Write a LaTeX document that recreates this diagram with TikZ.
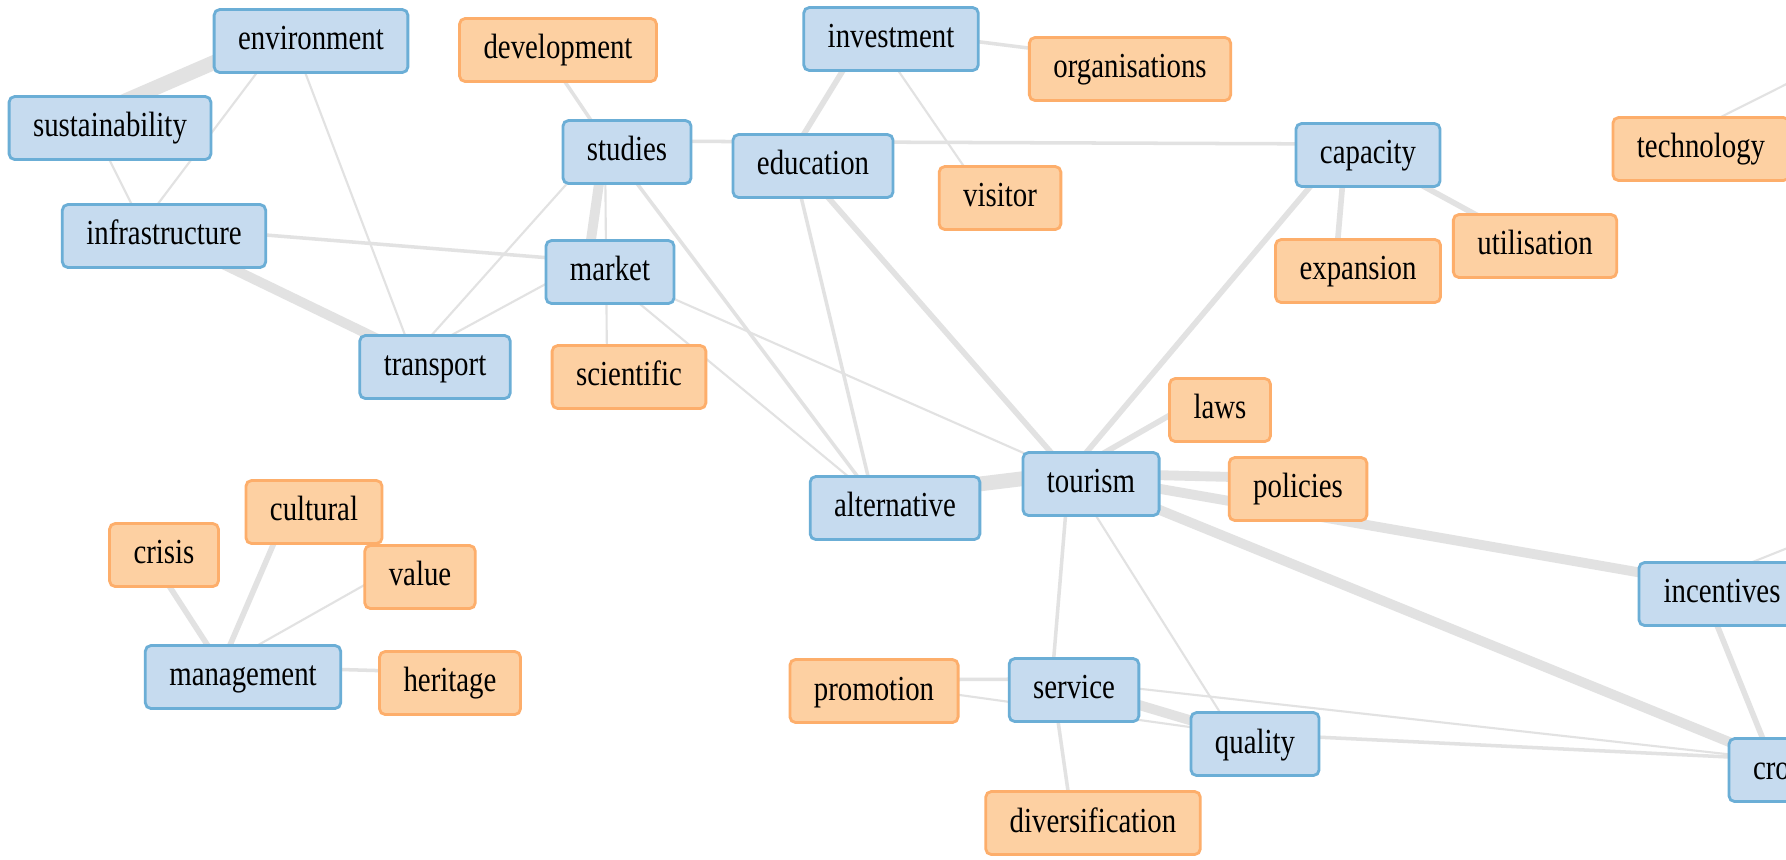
\documentclass[tikz,border=0pt]{standalone}
\usepackage{fontspec}
\setmainfont{Liberation Serif}[FakeStretch=0.82]
\usetikzlibrary{backgrounds}

\definecolor{topicfill}{RGB}{198,219,239}
\definecolor{topicline}{RGB}{107,174,214}
\definecolor{termfill}{RGB}{253,208,162}
\definecolor{termline}{RGB}{253,174,107}
\definecolor{linkgray}{RGB}{226,226,226}

\tikzset{
  kw/.style={draw, rounded corners=1.6pt, line width=0.8pt, minimum height=0.63cm,
    inner xsep=0.24cm, text height=7pt, text depth=1.9pt, font=\fontsize{10}{12}\selectfont},
  topic/.style={kw, fill=topicfill, draw=topicline},
  term/.style={kw, fill=termfill, draw=termline},
  link/.style={draw=linkgray, line cap=round},
  w1/.style={link, line width=0.6pt},
  w2/.style={link, line width=1pt},
  w3/.style={link, line width=1.6pt},
  w4/.style={link, line width=2.8pt},
  w5/.style={link, line width=4.2pt}
}

\begin{document}
\begin{tikzpicture}[x=0.01cm, y=-0.01cm]
\useasboundingbox (0,0) rectangle (1786,859);

% topics (blue) and terms (orange)
\node[topic] (environment) at (311,41) {environment};
\node[topic] (sustainability) at (110,128) {sustainability};
\node[topic] (infrastructure) at (164,236) {infrastructure};
\node[topic] (transport) at (435,367) {transport};
\node[term]  (development) at (558,50) {development};
\node[topic] (studies) at (627,152) {studies};
\node[topic] (market) at (610,272) {market};
\node[term]  (scientific) at (629,377) {scientific};
\node[topic] (investment) at (891,39) {investment};
\node[term]  (organisations) at (1130,69) {organisations};
\node[topic] (education) at (813,166) {education};
\node[term]  (visitor) at (1000,198) {visitor};
\node[topic] (capacity) at (1368,155) {capacity};
\node[term]  (expansion) at (1358,271) {expansion};
\node[term]  (utilisation) at (1535,246) {utilisation};
\node[term, minimum width=1.76cm] (technology) at (1701,149) {technology};
\node[term]  (laws) at (1220,410) {laws};
\node[term]  (crisis) at (164,555) {crisis};
\node[term]  (cultural) at (314,512) {cultural};
\node[term]  (value) at (420,577) {value};
\node[topic] (management) at (243,677) {management};
\node[term]  (heritage) at (450,683) {heritage};
\node[topic] (alternative) at (895,508) {alternative};
\node[topic] (tourism) at (1091,484) {tourism};
\node[term]  (policies) at (1298,489) {policies};
\node[topic, minimum width=1.66cm] (incentives) at (1722,594) {incentives};
\node[term]  (promotion) at (874,691) {promotion};
\node[topic] (service) at (1074,690) {service};
\node[topic] (quality) at (1255,744) {quality};
\node[term]  (diversification) at (1093,823) {diversification};
\node[topic, text width=0.8cm, align=left] (cro) at (1793,770) {cro};

\coordinate (offtech) at (1922,38);
\coordinate (offinc) at (1922,514);

\begin{scope}[on background layer]
\fill[white] (0,0) rectangle (1786,859);
\foreach \a/\b in {environment/infrastructure, sustainability/infrastructure,
    environment/transport, studies/transport, studies/scientific, market/transport,
    investment/visitor, market/alternative, market/tourism, tourism/quality,
    promotion/quality, service/cro, management/value, technology/offtech, incentives/offinc}
  \draw[w1] ([shift={(-22,-11)}]\a.center) -- ([shift={(-22,-11)}]\b.center);
\foreach \a/\b in {infrastructure/market, development/studies, studies/capacity,
    investment/organisations, education/alternative, tourism/service, promotion/service,
    quality/cro, service/diversification, management/heritage, studies/alternative}
  \draw[w2] ([shift={(-22,-11)}]\a.center) -- ([shift={(-22,-11)}]\b.center);
\foreach \a/\b in {investment/education, education/tourism, capacity/tourism,
    capacity/expansion, capacity/utilisation, laws/tourism, management/crisis,
    management/cultural, incentives/cro}
  \draw[w3] ([shift={(-22,-11)}]\a.center) -- ([shift={(-22,-11)}]\b.center);
\foreach \a/\b in {infrastructure/transport, studies/market, tourism/policies,
    tourism/incentives, tourism/cro, service/quality}
  \draw[w4] ([shift={(-22,-11)}]\a.center) -- ([shift={(-22,-11)}]\b.center);
\foreach \a/\b in {environment/sustainability, alternative/tourism}
  \draw[w5] ([shift={(-22,-11)}]\a.center) -- ([shift={(-22,-11)}]\b.center);
\end{scope}
\end{tikzpicture}
\end{document}
